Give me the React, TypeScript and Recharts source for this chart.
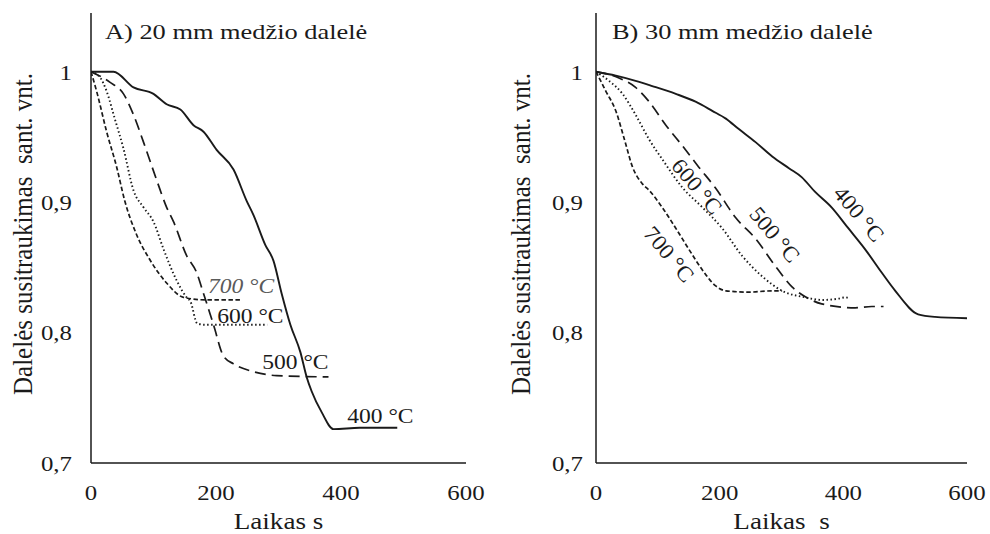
import React from "react";
import { LineChart, Line, XAxis, YAxis, ReferenceDot } from "recharts";

type Pt = { t: number; v: number };

const FONT = '"Liberation Serif", "Times New Roman", serif';
const INK = "#1a1a1a";
// Typeface is drawn slightly wide, as in the original figure
const WIDE = 1.13;

// Axis ranges and ticks (time in s, relative shrinkage)
const X_DOMAIN: [number, number] = [0, 600];
const X_TICKS = [0, 200, 400, 600];
const X_MINOR = [0, 40, 80, 120, 160, 200, 240, 280, 320, 360, 400, 440, 480, 520, 560, 600];
const Y_DOMAIN: [number, number] = [0.7, 1.045];
const Y_TICKS = [0.7, 0.8, 0.9, 1];
const Y_MINOR = [0.7, 0.72, 0.74, 0.76, 0.78, 0.8, 0.82, 0.84, 0.86, 0.88, 0.9, 0.92, 0.94, 0.96, 0.98, 1, 1.02, 1.04];

// A) 20 mm particle
const a400: Pt[] = [
  { t: 0, v: 1 }, { t: 36, v: 1.0 }, { t: 68, v: 0.988 }, { t: 100, v: 0.983 }, { t: 121, v: 0.975 },
  { t: 143, v: 0.971 }, { t: 164, v: 0.959 }, { t: 180, v: 0.954 }, { t: 201, v: 0.94 }, { t: 228, v: 0.925 },
  { t: 249, v: 0.901 }, { t: 260, v: 0.89 }, { t: 279, v: 0.867 }, { t: 292, v: 0.855 }, { t: 305, v: 0.83 },
  { t: 319, v: 0.806 }, { t: 335, v: 0.785 }, { t: 345, v: 0.766 }, { t: 353, v: 0.755 }, { t: 369, v: 0.739 },
  { t: 388, v: 0.726 }, { t: 430, v: 0.727 }, { t: 490, v: 0.727 },
];
const a500: Pt[] = [
  { t: 0, v: 1 }, { t: 30, v: 0.992 }, { t: 52, v: 0.983 }, { t: 68, v: 0.967 }, { t: 84, v: 0.946 },
  { t: 105, v: 0.917 }, { t: 121, v: 0.896 }, { t: 132, v: 0.885 }, { t: 153, v: 0.859 }, { t: 169, v: 0.846 },
  { t: 180, v: 0.83 }, { t: 196, v: 0.806 }, { t: 212, v: 0.782 }, { t: 228, v: 0.776 }, { t: 260, v: 0.77 },
  { t: 297, v: 0.767 }, { t: 380, v: 0.766 },
];
const a600: Pt[] = [
  { t: 0, v: 1 }, { t: 14, v: 0.996 }, { t: 25, v: 0.985 }, { t: 38, v: 0.964 }, { t: 52, v: 0.941 },
  { t: 68, v: 0.909 }, { t: 84, v: 0.896 }, { t: 100, v: 0.885 }, { t: 116, v: 0.864 }, { t: 137, v: 0.84 },
  { t: 153, v: 0.827 }, { t: 159, v: 0.824 }, { t: 170, v: 0.807 }, { t: 182, v: 0.806 }, { t: 282, v: 0.806 },
];
const a700: Pt[] = [
  { t: 0, v: 1 }, { t: 9, v: 0.985 }, { t: 25, v: 0.954 }, { t: 41, v: 0.927 }, { t: 54, v: 0.901 },
  { t: 73, v: 0.875 }, { t: 94, v: 0.856 }, { t: 121, v: 0.838 }, { t: 148, v: 0.827 }, { t: 185, v: 0.825 },
  { t: 239, v: 0.825 },
];

// B) 30 mm particle
const b400: Pt[] = [
  { t: 0, v: 1 }, { t: 32, v: 0.997 }, { t: 64, v: 0.993 }, { t: 91, v: 0.989 }, { t: 129, v: 0.983 },
  { t: 161, v: 0.977 }, { t: 188, v: 0.97 }, { t: 210, v: 0.964 }, { t: 231, v: 0.956 }, { t: 258, v: 0.946 },
  { t: 285, v: 0.935 }, { t: 312, v: 0.926 }, { t: 333, v: 0.919 }, { t: 354, v: 0.908 }, { t: 381, v: 0.896 },
  { t: 408, v: 0.88 }, { t: 435, v: 0.864 }, { t: 462, v: 0.846 }, { t: 484, v: 0.832 }, { t: 521, v: 0.814 },
  { t: 548, v: 0.812 }, { t: 600, v: 0.811 },
];
const b500: Pt[] = [
  { t: 0, v: 1 }, { t: 38, v: 0.995 }, { t: 64, v: 0.988 }, { t: 86, v: 0.977 }, { t: 113, v: 0.959 },
  { t: 140, v: 0.943 }, { t: 166, v: 0.927 }, { t: 193, v: 0.911 }, { t: 226, v: 0.888 }, { t: 258, v: 0.872 },
  { t: 290, v: 0.851 }, { t: 317, v: 0.835 }, { t: 344, v: 0.826 }, { t: 365, v: 0.822 }, { t: 419, v: 0.819 },
  { t: 446, v: 0.82 }, { t: 465, v: 0.82 },
];
const b600: Pt[] = [
  { t: 0, v: 1 }, { t: 21, v: 0.993 }, { t: 43, v: 0.983 }, { t: 64, v: 0.967 }, { t: 86, v: 0.948 },
  { t: 107, v: 0.933 }, { t: 140, v: 0.911 }, { t: 172, v: 0.896 }, { t: 204, v: 0.88 }, { t: 236, v: 0.859 },
  { t: 269, v: 0.843 }, { t: 301, v: 0.832 }, { t: 338, v: 0.827 }, { t: 365, v: 0.825 }, { t: 392, v: 0.826 },
  { t: 403, v: 0.827 }, { t: 411, v: 0.826 },
];
const b700: Pt[] = [
  { t: 0, v: 1 }, { t: 16, v: 0.985 }, { t: 32, v: 0.97 }, { t: 46, v: 0.948 }, { t: 59, v: 0.927 },
  { t: 75, v: 0.914 }, { t: 86, v: 0.909 }, { t: 107, v: 0.896 }, { t: 129, v: 0.88 }, { t: 150, v: 0.864 },
  { t: 172, v: 0.848 }, { t: 193, v: 0.836 }, { t: 210, v: 0.832 }, { t: 247, v: 0.831 }, { t: 285, v: 0.832 },
  { t: 301, v: 0.832 },
];

// Temperature tags placed next to the curves
const tagsA = [
  { t: 187, v: 0.8305, text: "700 °C", italic: true },
  { t: 202, v: 0.8076, text: "600 °C" },
  { t: 274, v: 0.772, text: "500 °C" },
  { t: 410, v: 0.731, text: "400 °C" },
];
const tagsB = [
  { t: 163, v: 0.912, text: "600 °C" },
  { t: 289, v: 0.875, text: "500 °C" },
  { t: 425, v: 0.891, text: "400 °C" },
  { t: 118, v: 0.86, text: "700 °C" },
];

const STYLE = {
  s400: { strokeWidth: 1.9, dash: undefined as string | undefined },
  s500: { strokeWidth: 1.7, dash: "11 6" },
  s600: { strokeWidth: 1.9, dash: "1.5 2.5" },
  s700: { strokeWidth: 1.7, dash: "4.5 2.5" },
};

type Tag = { t: number; v: number; text: string; italic?: boolean };

type PanelCfg = {
  left: number;
  margin: { top: number; right: number; bottom: number; left: number };
  title: string;
  titleX: number;
  xTitle: string;
  yTitleX: number;
  yTickMargin: number;
  series: { data: Pt[]; style: { strokeWidth: number; dash?: string } }[];
  tags: Tag[];
  rotatedTags: boolean;
};

const panels: PanelCfg[] = [
  {
    left: 0,
    margin: { top: 13, right: 29, bottom: 11, left: 31 },
    title: "A) 20 mm medžio dalelė",
    titleX: 105,
    xTitle: "Laikas s",
    yTitleX: 22,
    yTickMargin: 19,
    series: [
      { data: a400, style: STYLE.s400 },
      { data: a500, style: STYLE.s500 },
      { data: a600, style: STYLE.s600 },
      { data: a700, style: STYLE.s700 },
    ],
    tags: tagsA,
    rotatedTags: false,
  },
  {
    left: 495,
    margin: { top: 13, right: 23, bottom: 11, left: 41 },
    title: "B) 30 mm medžio dalelė",
    titleX: 117,
    xTitle: "Laikas  s",
    yTitleX: 25,
    yTickMargin: 13,
    series: [
      { data: b400, style: STYLE.s400 },
      { data: b500, style: STYLE.s500 },
      { data: b600, style: STYLE.s600 },
      { data: b700, style: STYLE.s700 },
    ],
    tags: tagsB,
    rotatedTags: true,
  },
];

const fmtY = (v: number) => (v === 1 ? "1" : v.toFixed(1).replace(".", ","));

function XTick(p: any) {
  return (
    <text
      transform={`translate(${p.x} ${p.y}) scale(${WIDE} 1)`}
      textAnchor="middle"
      dy="0.71em"
      fontFamily={FONT}
      fontSize={22}
      fill={INK}
    >
      {p.payload.value}
    </text>
  );
}

function YTick(p: any) {
  return (
    <text
      transform={`translate(${p.x} ${p.y}) scale(${WIDE} 1)`}
      textAnchor="end"
      dy="0.355em"
      fontFamily={FONT}
      fontSize={22}
      fill={INK}
    >
      {fmtY(p.payload.value)}
    </text>
  );
}

function Panel({ cfg }: { cfg: PanelCfg }) {
  return (
    <div style={{ position: "absolute", left: cfg.left, top: 0, fontFamily: FONT }}>
      <LineChart width={495} height={534} margin={cfg.margin}>
        <XAxis
          xAxisId="x"
          type="number"
          dataKey="t"
          domain={X_DOMAIN}
          ticks={X_TICKS}
          interval={0}
          allowDataOverflow
          height={60}
          tickSize={0}
          tickMargin={21}
          tickLine={false}
          axisLine={{ stroke: INK, strokeWidth: 1.5 }}
          tick={<XTick />}
          label={(p: any) => {
            const vb = p.viewBox;
            return (
              <g>
                <text
                  transform={`translate(${vb.x + vb.width / 2} 529) scale(${WIDE} 1)`}
                  textAnchor="middle"
                  fontFamily={FONT}
                  fontSize={24}
                  fill={INK}
                  xmlSpace="preserve"
                >
                  {cfg.xTitle}
                </text>
                <text
                  transform={`translate(${cfg.titleX} 39) scale(1.2 1)`}
                  fontFamily={FONT}
                  fontSize={22}
                  fill={INK}
                >
                  {cfg.title}
                </text>
              </g>
            );
          }}
        />
        <XAxis
          xAxisId="xb"
          type="number"
          domain={X_DOMAIN}
          ticks={X_MINOR}
          interval={0}
          allowDataOverflow
          mirror
          height={0}
          tickSize={5}
          axisLine={false}
          tick={false}
          tickLine={{ stroke: INK, strokeWidth: 1.3 }}
        />
        <XAxis
          xAxisId="xt"
          orientation="top"
          type="number"
          domain={X_DOMAIN}
          ticks={X_MINOR}
          interval={0}
          allowDataOverflow
          mirror
          height={0}
          tickSize={5}
          axisLine={{ stroke: INK, strokeWidth: 1.5 }}
          tick={false}
          tickLine={{ stroke: INK, strokeWidth: 1.3 }}
        />
        <YAxis
          yAxisId="y"
          type="number"
          domain={Y_DOMAIN}
          ticks={Y_TICKS}
          interval={0}
          allowDataOverflow
          width={60}
          tickSize={0}
          tickMargin={cfg.yTickMargin}
          tickLine={false}
          axisLine={{ stroke: INK, strokeWidth: 1.5 }}
          tick={<YTick />}
          label={(p: any) => {
            const vb = p.viewBox;
            const cy = vb.y + vb.height / 2 - 4;
            return (
              <text
                transform={`translate(${cfg.yTitleX} ${cy}) scale(${WIDE} 1) rotate(-90)`}
                textAnchor="middle"
                dominantBaseline="central"
                fontFamily={FONT}
                fontSize={25}
                fill={INK}
                xmlSpace="preserve"
              >
                {"Dalelės susitraukimas  sant. vnt."}
              </text>
            );
          }}
        />
        <YAxis
          yAxisId="yl"
          type="number"
          domain={Y_DOMAIN}
          ticks={Y_MINOR}
          interval={0}
          allowDataOverflow
          mirror
          width={0}
          tickSize={5}
          axisLine={false}
          tick={false}
          tickLine={{ stroke: INK, strokeWidth: 1.3 }}
        />
        <YAxis
          yAxisId="yr"
          orientation="right"
          type="number"
          domain={Y_DOMAIN}
          ticks={Y_MINOR}
          interval={0}
          allowDataOverflow
          mirror
          width={0}
          tickSize={5}
          axisLine={{ stroke: INK, strokeWidth: 1.5 }}
          tick={false}
          tickLine={{ stroke: INK, strokeWidth: 1.3 }}
        />
        {cfg.series.map((s, i) => (
          <Line
            key={i}
            xAxisId="x"
            yAxisId="y"
            data={s.data}
            dataKey="v"
            type="monotoneX"
            stroke={INK}
            strokeWidth={s.style.strokeWidth}
            strokeDasharray={s.style.dash}
            dot={false}
            activeDot={false}
            isAnimationActive={false}
          />
        ))}
        {cfg.tags.map((tg, i) => (
          <ReferenceDot
            key={`tag${i}`}
            xAxisId="x"
            yAxisId="y"
            x={tg.t}
            y={tg.v}
            r={0}
            fill="none"
            stroke="none"
            label={(p: any) => {
              const vb = p.viewBox;
              const cx = vb.x + (vb.width || 0) / 2;
              const cy = vb.y + (vb.height || 0) / 2;
              if (cfg.rotatedTags) {
                return (
                  <text
                    transform={`translate(${cx} ${cy}) rotate(50) scale(1.05 1)`}
                    textAnchor="middle"
                    dominantBaseline="central"
                    fontFamily={FONT}
                    fontSize={22}
                    fill={INK}
                  >
                    {tg.text}
                  </text>
                );
              }
              return (
                <text
                  transform={`translate(${cx} ${cy}) scale(1.07 1)`}
                  fontFamily={FONT}
                  fontSize={22}
                  fontStyle={tg.italic ? "italic" : "normal"}
                  fill={tg.italic ? "#5a5a5a" : INK}
                >
                  {tg.text}
                </text>
              );
            }}
          />
        ))}
      </LineChart>
    </div>
  );
}

export default function App() {
  return (
    <div style={{ position: "absolute", left: 0, top: 0, width: 990, height: 534, background: "#fff" }}>
      {panels.map((p, i) => (
        <Panel key={i} cfg={p} />
      ))}
    </div>
  );
}
